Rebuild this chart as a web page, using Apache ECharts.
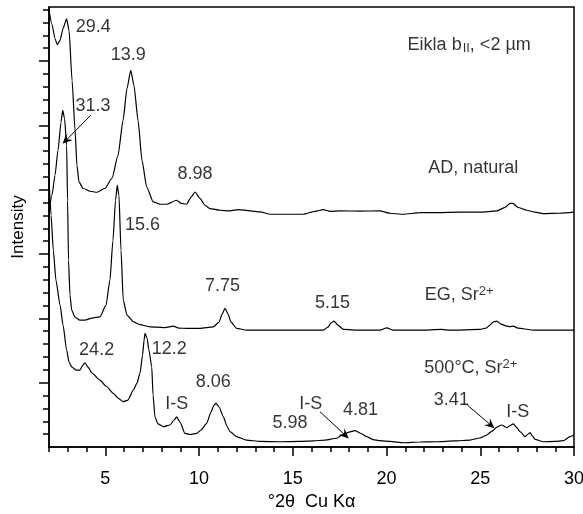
<!DOCTYPE html>
<html>
<head>
<meta charset="utf-8">
<script src="https://cdn.jsdelivr.net/npm/echarts@6/dist/echarts.min.js"></script>
<style>
  html, body { margin: 0; padding: 0; background: #fff; }
  #chart { width: 583px; height: 514px; }
</style>
</head>
<body>
<div id="chart"></div>
<script>
// XRD traces, offset stack — [°2θ, intensity (axis units)]
const AD_NATURAL = [
  [2.00, 33.93], [2.16, 32.84], [2.32, 31.75], [2.44, 31.27], [2.59, 31.60], [2.75, 32.53],
  [2.94, 33.28], [3.07, 32.38], [3.23, 28.49], [3.39, 24.61], [3.49, 21.89], [3.60, 20.60],
  [3.81, 20.11], [4.19, 19.88], [4.56, 19.80], [4.99, 20.11], [5.36, 20.89], [5.68, 22.67],
  [5.95, 25.39], [6.16, 27.87], [6.36, 29.27], [6.53, 28.11], [6.75, 25.39], [6.96, 22.28],
  [7.21, 20.21], [7.56, 19.05], [7.92, 18.87], [8.28, 18.87], [8.81, 19.18], [9.04, 18.94],
  [9.34, 18.87], [9.57, 19.41], [9.79, 19.82], [10.05, 19.33], [10.32, 18.79], [10.59, 18.53],
  [11.12, 18.40], [11.65, 18.36], [12.10, 18.45], [12.72, 18.36], [13.25, 18.28], [13.79, 18.09],
  [14.85, 18.09], [15.56, 18.09], [16.19, 18.32], [16.63, 18.45], [16.99, 18.32], [17.52, 18.35],
  [18.59, 18.34], [19.65, 18.35], [20.19, 18.17], [20.88, 18.09], [21.79, 18.21], [22.68, 18.22],
  [23.92, 18.25], [24.99, 18.25], [25.88, 18.35], [26.32, 18.63], [26.59, 18.94], [26.76, 18.92],
  [27.01, 18.63], [27.48, 18.40], [27.92, 18.25], [28.35, 18.14], [29.25, 18.17], [30.00, 18.25]
];

const EG_SR = [
  [2.00, 18.17], [2.16, 19.57], [2.32, 21.12], [2.48, 23.06], [2.64, 25.23], [2.73, 26.16],
  [2.83, 25.54], [2.94, 23.45], [2.99, 19.18], [3.04, 14.52], [3.12, 11.80], [3.21, 10.64],
  [3.39, 10.09], [3.65, 9.86], [3.92, 9.86], [4.29, 10.02], [4.72, 10.12], [5.04, 11.02],
  [5.25, 12.97], [5.41, 16.07], [5.55, 19.18], [5.64, 20.34], [5.73, 19.57], [5.84, 15.30],
  [5.96, 11.41], [6.16, 10.25], [6.50, 9.73], [6.85, 9.51], [7.39, 9.34], [8.19, 9.28],
  [8.63, 9.39], [8.93, 9.24], [9.34, 9.22], [10.05, 9.22], [10.76, 9.34], [11.07, 9.71],
  [11.23, 10.33], [11.39, 10.77], [11.55, 10.33], [11.71, 9.71], [12.01, 9.22], [12.54, 9.08],
  [13.79, 9.08], [15.39, 9.08], [16.63, 9.08], [16.88, 9.32], [17.04, 9.63], [17.20, 9.78],
  [17.41, 9.47], [17.70, 9.14], [18.59, 9.08], [19.65, 9.08], [20.01, 9.26], [20.36, 9.08],
  [21.79, 9.08], [22.94, 9.14], [23.39, 9.08], [24.99, 9.14], [25.31, 9.24], [25.52, 9.47],
  [25.68, 9.71], [25.88, 9.78], [26.11, 9.55], [26.41, 9.39], [26.59, 9.36], [26.76, 9.39],
  [27.01, 9.24], [27.30, 9.19], [27.83, 9.08], [28.72, 9.08], [30.00, 9.08]
];

const HEATED_SR = [
  [2.00, 20.89], [2.11, 18.01], [2.23, 15.30], [2.37, 12.97], [2.59, 11.02], [2.75, 9.47],
  [2.94, 7.53], [3.07, 6.60], [3.21, 6.23], [3.44, 5.98], [3.65, 5.98], [3.81, 6.37],
  [3.92, 6.55], [4.08, 6.21], [4.29, 5.75], [4.72, 5.20], [5.04, 4.74], [5.43, 4.17],
  [5.68, 3.80], [5.96, 3.52], [6.21, 3.65], [6.50, 4.43], [6.69, 4.97], [6.85, 5.72],
  [6.99, 7.14], [7.07, 8.31], [7.12, 8.83], [7.23, 8.46], [7.33, 7.53], [7.48, 6.23],
  [7.55, 4.04], [7.65, 2.35], [7.81, 1.79], [8.10, 1.58], [8.45, 1.71], [8.67, 2.10],
  [8.81, 2.35], [8.99, 1.94], [9.25, 1.06], [9.52, 0.97], [9.88, 1.06], [10.11, 1.32],
  [10.41, 1.84], [10.64, 2.72], [10.80, 3.26], [10.91, 3.39], [11.07, 3.11], [11.30, 2.35],
  [11.49, 1.63], [11.65, 1.19], [12.03, 0.78], [12.54, 0.54], [13.25, 0.43], [14.32, 0.41],
  [15.39, 0.43], [16.10, 0.47], [16.72, 0.54], [17.34, 0.68], [17.70, 0.99], [18.00, 1.16],
  [18.32, 1.27], [18.59, 1.09], [18.94, 0.80], [19.28, 0.58], [19.65, 0.49], [20.19, 0.43],
  [20.90, 0.33], [21.79, 0.39], [22.68, 0.41], [23.65, 0.47], [24.45, 0.54], [24.99, 0.70],
  [25.34, 0.93], [25.63, 1.24], [25.89, 1.55], [26.14, 1.71], [26.41, 1.50], [26.59, 1.67],
  [26.76, 1.79], [26.96, 1.48], [27.12, 1.19], [27.39, 0.80], [27.55, 1.01], [27.65, 1.11],
  [27.79, 0.85], [27.92, 0.60], [28.36, 0.41], [28.99, 0.43], [29.43, 0.49], [29.79, 0.80],
  [30.00, 0.93]
];

// text annotations: [°2θ, intensity, text]
const LABELS = [
  [4.36, 32.63, '29.4'], [6.23, 30.43, '13.9'], [9.79, 21.25, '8.98'],
  [24.41, 31.27, 'Eikla b{sub|II}, <2 \u00b5m'], [24.63, 21.70, 'AD, natural'],
  [4.35, 26.48, '31.3'], [6.99, 17.24, '15.6'], [11.25, 12.52, '7.75'], [17.12, 11.16, '5.15'],
  [23.88, 11.80, 'EG, Sr{sup|2+}'], [24.50, 6.11, '500\u00b0C, Sr{sup|2+}'],
  [4.54, 7.53, '24.2'], [8.41, 7.59, '12.2'], [8.81, 3.32, 'I-S'], [10.76, 5.07, '8.06'],
  [14.85, 1.84, '5.98'], [15.96, 3.34, 'I-S'], [18.61, 2.87, '4.81'], [23.46, 3.65, '3.41'],
  [27.00, 2.74, 'I-S']
];

// arrows: [from °2θ, from y, to °2θ, to y]
const ARROWS = [
  [4.22, 25.78, 2.91, 23.84],
  [16.45, 2.74, 17.79, 0.93],
  [24.31, 3.26, 25.56, 1.71]
];

const X_MAJOR = [5, 10, 15, 20, 25, 30];
const X_MINOR = [2, 3, 4, 6, 7, 8, 9, 11, 12, 13, 14, 16, 17, 18, 19, 21, 22, 23, 24, 26, 27, 28, 29];
const Y_MAJOR = [5, 10, 15, 20, 25, 30];
const Y_MINOR = [1, 2, 3, 4, 6, 7, 8, 9, 11, 12, 13, 14, 16, 17, 18, 19, 21, 22, 23, 24, 26, 27, 28, 29, 31, 32, 33, 34];

const FONT = '"Liberation Sans", Arial, Helvetica, sans-serif';
const INK = '#000';
const FS = 18;

const chart = echarts.init(document.getElementById('chart'));

const trace = (name, data) => ({
  name,
  type: 'line',
  data,
  symbol: 'none',
  showSymbol: false,
  smooth: 0.2,
  smoothMonotone: 'x',
  silent: true,
  animation: false,
  lineStyle: { color: INK, width: 1.2 },
});

const xBase = {
  type: 'value', min: 2, max: 30, position: 'bottom', offset: 0,
  splitLine: { show: false },
};
const yBase = {
  type: 'value', min: 0, max: 34.2, position: 'left', offset: 0,
  splitLine: { show: false },
};

chart.setOption({
  backgroundColor: '#fff',
  animation: false,
  grid: {
    left: 49, right: 9, top: 7, bottom: 67,
    containLabel: false,
    outerBoundsMode: 'none',
    show: true, borderColor: INK, borderWidth: 1.5, backgroundColor: 'transparent',
  },
  xAxis: [
    {
      ...xBase,
      axisLine: { lineStyle: { color: INK, width: 1.5 } },
      axisTick: { customValues: X_MAJOR, length: 9, lineStyle: { color: INK, width: 1.5 } },
      axisLabel: { customValues: X_MAJOR, color: INK, fontSize: FS, fontFamily: FONT, margin: 23 },
      name: '\u00b02\u03b8  Cu K\u03b1',
      nameLocation: 'middle',
      nameGap: 46,
      nameTextStyle: { color: INK, fontSize: FS, fontFamily: FONT },
    },
    {
      ...xBase,
      axisLine: { show: false },
      axisTick: { customValues: X_MINOR, length: 5, lineStyle: { color: INK, width: 1.5 } },
      axisLabel: { show: false },
    },
  ],
  yAxis: [
    {
      ...yBase,
      axisLine: { lineStyle: { color: INK, width: 1.5 } },
      axisTick: { customValues: Y_MAJOR, length: 10, lineStyle: { color: INK, width: 1.5 } },
      axisLabel: { show: false },
      name: 'Intensity',
      nameLocation: 'middle',
      nameRotate: 90,
      nameGap: 22,
      nameTextStyle: { color: INK, fontSize: FS - 1, fontFamily: FONT },
    },
    {
      ...yBase,
      axisLine: { show: false },
      axisTick: { customValues: Y_MINOR, length: 6, lineStyle: { color: INK, width: 1.5 } },
      axisLabel: { show: false },
    },
  ],
  series: [
    trace('AD, natural', AD_NATURAL),
    trace('EG, Sr2+', EG_SR),
    trace('500°C, Sr2+', HEATED_SR),
    {
      name: 'annotations',
      type: 'scatter',
      symbolSize: 0,
      silent: true,
      itemStyle: { color: 'transparent' },
      data: LABELS.map(([x, y, t]) => ({ value: [x, y], name: t })),
      label: {
        show: true,
        position: 'inside',
        formatter: (p) => p.name,
        color: INK,
        fontSize: FS,
        fontFamily: FONT,
        lineHeight: 21,
        rich: {
          sup: { fontSize: 13, fontFamily: FONT, color: INK, verticalAlign: 'top', lineHeight: 21, padding: [0, 0, 7, 0] },
          sub: { fontSize: 13, fontFamily: FONT, color: INK, verticalAlign: 'bottom', lineHeight: 21, padding: [5, 0, 0, 1] },
        },
      },
      emphasis: { disabled: true },
      markLine: {
        silent: true,
        animation: false,
        symbol: ['none', 'path://M5,0L10,11L5,7L0,11Z'],
        symbolSize: [9, 10],
        label: { show: false },
        lineStyle: { color: INK, width: 1, type: 'solid' },
        emphasis: { disabled: true },
        data: ARROWS.map(([x1, y1, x2, y2]) => [{ coord: [x1, y1] }, { coord: [x2, y2] }]),
      },
    },
  ],
});
</script>
</body>
</html>
